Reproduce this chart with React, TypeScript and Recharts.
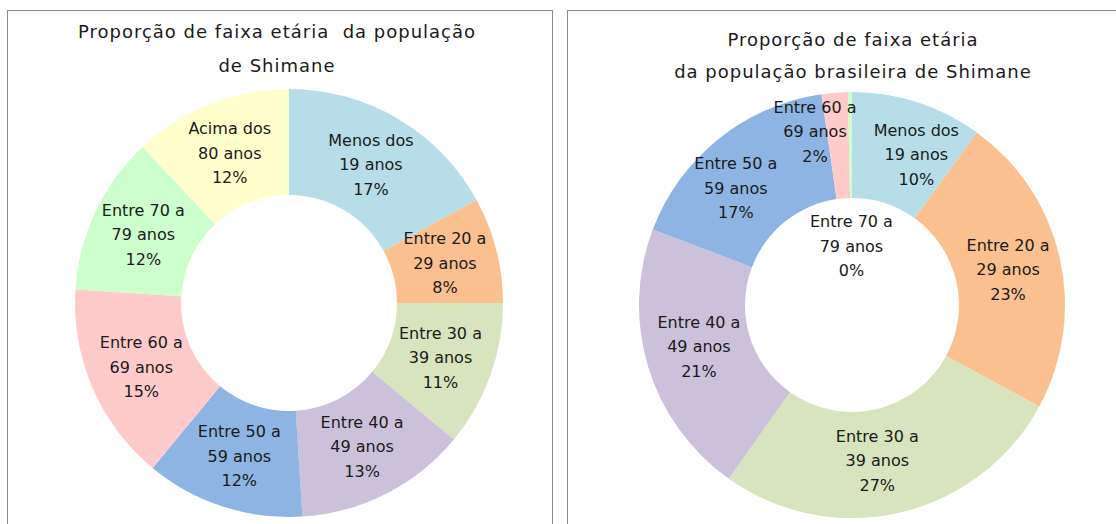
import { PieChart, Pie, Cell } from "recharts";

const categories = [
  "Menos dos 19 anos",
  "Entre 20 a 29 anos",
  "Entre 30 a 39 anos",
  "Entre 40 a 49 anos",
  "Entre 50 a 59 anos",
  "Entre 60 a 69 anos",
  "Entre 70 a 79 anos",
  "Acima dos 80 anos",
];

// % of population
const shimaneValues = [17, 8, 11, 13, 12, 15, 12, 12];
const brazilianValues = [10, 23, 27, 21, 17, 2, 0.3, 0];

const colors = [
  "#B7DEE8",
  "#FAC090",
  "#D7E4BD",
  "#CCC1DA",
  "#8EB4E3",
  "#FFCACA",
  "#CCFFCC",
  "#FFFFCC",
];

const leftTitle = ["Proporção de faixa etária  da população", "de Shimane"];
const rightTitle = ["Proporção de faixa etária", "da população brasileira de Shimane"];

// Excel "best fit" moved a few labels on the right chart
type Nudge = { dx?: number; dy?: number; r?: number };
const rightNudges: Nudge[] = [
  { dx: 15, dy: 2 },
  {},
  { dx: -11 },
  { dy: -5 },
  { dx: -16, dy: 8 },
  { dx: -24, dy: -14 },
  { r: 59 },
  {},
];

const FONT = '"DejaVu Sans", Verdana, sans-serif';
const TEXT = "#1a1a1a";
const RAD = Math.PI / 180;

const makeLabel = (nudges: Nudge[]) => (props: any) => {
  const { cx, cy, midAngle, innerRadius, outerRadius, percent, index, value } = props;
  if (!value) return null;
  const n = nudges[index] ?? {};
  const r = n.r ?? (innerRadius + outerRadius) / 2;
  const x = cx + r * Math.cos(-midAngle * RAD) + (n.dx ?? 0);
  const y = cy + r * Math.sin(-midAngle * RAD) + (n.dy ?? 0);
  const words = categories[index].split(" ");
  const lines = [
    words.slice(0, -2).join(" "),
    words.slice(-2).join(" "),
    `${Math.round(percent * 100)}%`,
  ];
  return (
    <text x={x} y={y} textAnchor="middle" fontFamily={FONT} fontSize={16} fill={TEXT}>
      {lines.map((l, i) => (
        <tspan key={i} x={x} y={y + (i - 1) * 24.5} dy="0.35em">
          {l}
        </tspan>
      ))}
    </text>
  );
};

type DonutProps = {
  left: number;
  width: number;
  values: number[];
  cx: number;
  cy: number;
  inner: number;
  outer: number;
  nudges: Nudge[];
};

const Donut = ({ left, width, values, cx, cy, inner, outer, nudges }: DonutProps) => {
  const data = categories.map((name, i) => ({ name, value: values[i] }));
  return (
    <div style={{ position: "absolute", left, top: 0 }}>
      <PieChart width={width} height={524} margin={{ top: 0, right: 0, bottom: 0, left: 0 }}>
        <Pie
          data={data}
          dataKey="value"
          nameKey="name"
          cx={cx}
          cy={cy}
          innerRadius={inner}
          outerRadius={outer}
          startAngle={90}
          endAngle={-270}
          stroke="none"
          label={makeLabel(nudges)}
          labelLine={false}
          isAnimationActive={false}
        >
          {data.map((_, i) => (
            <Cell key={i} fill={colors[i]} />
          ))}
        </Pie>
      </PieChart>
    </div>
  );
};

export default function App() {
  return (
    <div
      style={{
        position: "absolute",
        left: 0,
        top: 0,
        width: 1116,
        height: 524,
        overflow: "hidden",
        background: "#fff",
      }}
    >
      <svg width={1116} height={524} style={{ position: "absolute", left: 0, top: 0 }}>
        <rect x={7.5} y={10.5} width={545} height={600} fill="#fff" stroke="#8a8a8a" />
        <rect x={567.5} y={10.5} width={600} height={600} fill="#fff" stroke="#8a8a8a" />
        <g fontFamily={FONT} fontSize={18} letterSpacing={1} fill={TEXT} textAnchor="middle">
          <text x={277} y={38} xmlSpace="preserve">{leftTitle[0]}</text>
          <text x={277} y={72}>{leftTitle[1]}</text>
          <text x={853} y={46}>{rightTitle[0]}</text>
          <text x={853} y={78}>{rightTitle[1]}</text>
        </g>
      </svg>
      <Donut left={7} width={545} values={shimaneValues} cx={282} cy={303} inner={108} outer={214} nudges={[]} />
      <Donut left={567} width={549} values={brazilianValues} cx={285} cy={305} inner={107} outer={213} nudges={rightNudges} />
    </div>
  );
}
